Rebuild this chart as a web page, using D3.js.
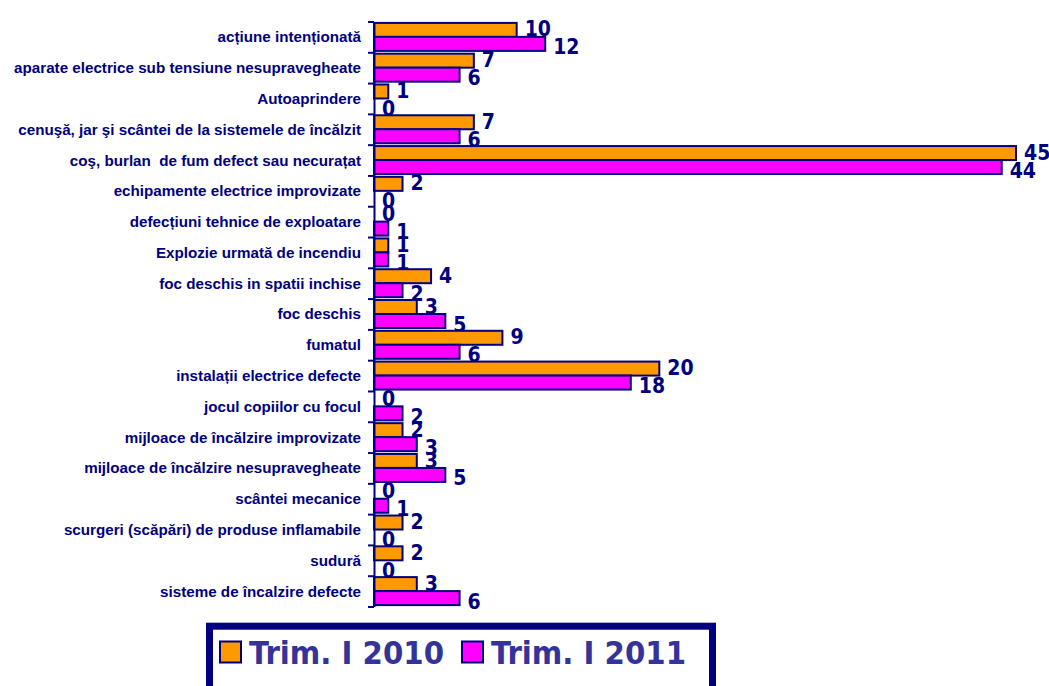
<!DOCTYPE html>
<html>
<head>
<meta charset="utf-8">
<script src="https://cdn.jsdelivr.net/npm/d3@7"></script>
<style>
   body { margin: 0; background: #ffffff; }
   svg { display: block; }
</style>
</head>
<body>
<div id="chart"></div>
<script>

// CATEGORIES (TOP TO BOTTOM)
var categories = [
   'acțiune intenționată',
   'aparate electrice sub tensiune nesupravegheate',
   'Autoaprindere',
   'cenuşă, jar şi scântei de la sistemele de încălzit',
   'coş, burlan  de fum defect sau necurațat',
   'echipamente electrice improvizate',
   'defecțiuni tehnice de exploatare',
   'Explozie urmată de incendiu',
   'foc deschis in spatii inchise',
   'foc deschis',
   'fumatul',
   'instalații electrice defecte',
   'jocul copiilor cu focul',
   'mijloace de încălzire improvizate',
   'mijloace de încălzire nesupravegheate',
   'scântei mecanice',
   'scurgeri (scăpări) de produse inflamabile',
   'sudură',
   'sisteme de încalzire defecte'
];

// SERIES VALUES
var trim2010 = [10, 7, 1, 7, 45, 2, 0, 1, 4, 3, 9, 20, 0, 2, 3, 0, 2, 2, 3];
var trim2011 = [12, 6, 0, 6, 44, 0, 1, 1, 2, 5, 6, 18, 2, 3, 5, 1, 0, 0, 6];

// SERIES NAMES
var seriesNames = ['Trim. I 2010', 'Trim. I 2011'];

// SETTINGS
var settings = {
   width: 1049,
   height: 686,
   left: 374,
   right: 1016,
   top: 21.5,
   bottom: 606.5,
   navy: '#000080',
   legendText: '#333399',
   fill: ['#ff9900', '#ff00ff']
};

// GENERATE CANVAS
var canvas = d3.select('#chart').append('svg')
   .attr('width', settings.width)
   .attr('height', settings.height)

// BUILD ROWS FROM THE ARRAYS
var rows = categories.map((name, i) => {
   return { name: name, values: [trim2010[i], trim2011[i]] };
});

// X-SCALING
var xScale = d3.scaleLinear()
   .domain([0, d3.max(trim2010.concat(trim2011))])
   .range([settings.left, settings.right])

// Y-SCALING -- ONE BAND PER CATEGORY
var yScale = d3.scaleBand()
   .domain(categories)
   .range([settings.top, settings.bottom])
   .padding(0)

// INNER SCALING -- ONE SUB-BAND PER SERIES
var ySub = d3.scaleBand()
   .domain([0, 1])
   .range([0, yScale.bandwidth()])
   .paddingInner(0)
   .paddingOuter(0.1)

// BOUNDARY SCALE FOR THE AXIS TICKS
var yEdge = d3.scaleLinear()
   .domain([0, categories.length])
   .range([settings.top, settings.bottom])

// ADD BARS
var groups = canvas.selectAll('g.row')
   .data(rows)
      .enter().append('g')
         .attr('class', 'row')
         .attr('transform', (d) => { return 'translate(0,' + yScale(d.name) + ')' })

groups.selectAll('rect')
   .data((d) => { return d.values })
      .enter().append('rect')
         .attr('x', xScale(0))
         .attr('y', (d, i) => { return ySub(i) })
         .attr('width', (d) => { return xScale(d) - xScale(0) })
         .attr('height', ySub.bandwidth())
         .attr('fill', (d, i) => { return settings.fill[i] })
         .attr('stroke', settings.navy)
         .attr('stroke-width', 2)

// ADD VALUE LABELS
groups.selectAll('text.value')
   .data((d) => { return d.values })
      .enter().append('text')
         .attr('class', 'value')
         .attr('x', (d) => { return xScale(d) + 8 })
         .attr('y', (d, i) => { return ySub(i) + ySub.bandwidth() / 2 + (i == 0 ? -1 : 3) })
         .attr('dy', '0.36em')
         .attr('fill', settings.navy)
         .attr('font-family', '"DejaVu Sans Condensed", "DejaVu Sans", sans-serif')
         .attr('font-weight', 'bold')
         .attr('font-size', 21)
         .text((d) => { return d })

// ADD CATEGORY LABELS
canvas.selectAll('text.category')
   .data(categories)
      .enter().append('text')
         .attr('class', 'category')
         .attr('x', settings.left - 13)
         .attr('y', (d) => { return yScale(d) + yScale.bandwidth() / 2 })
         .attr('dy', '0.36em')
         .attr('text-anchor', 'end')
         .attr('fill', settings.navy)
         .attr('font-family', '"Liberation Sans", Arial, sans-serif')
         .attr('font-weight', 'bold')
         .attr('font-size', 15.2)
         .style('white-space', 'pre')
         .text((d) => { return d })

// ADD AXIS
var axis = canvas.append('g')
   .attr('transform', 'translate(' + settings.left + ',0)')
   .call(d3.axisLeft(yEdge)
      .tickValues(d3.range(categories.length + 1))
      .tickFormat('')
      .tickSize(6)
      .tickSizeOuter(0))

axis.selectAll('path, line')
   .attr('stroke', settings.navy)
   .attr('stroke-width', 2)

// ADD LEGEND BOX
var legend = canvas.append('g')

legend.append('rect')
   .attr('x', 209.5)
   .attr('y', 626.2)
   .attr('width', 503)
   .attr('height', 90)
   .attr('fill', '#ffffff')
   .attr('stroke', settings.navy)
   .attr('stroke-width', 7)

// LEGEND ITEMS
var legendX = [220, 462];

seriesNames.forEach((name, i) => {

   // SWATCH
   legend.append('rect')
      .attr('x', legendX[i])
      .attr('y', 641.5)
      .attr('width', 21)
      .attr('height', 21)
      .attr('fill', settings.fill[i])
      .attr('stroke', settings.navy)
      .attr('stroke-width', 2)

   // LABEL
   legend.append('text')
      .attr('x', legendX[i] + 29)
      .attr('y', 664)
      .attr('fill', settings.legendText)
      .attr('font-family', '"DejaVu Sans Condensed", "DejaVu Sans", sans-serif')
      .attr('font-weight', 'bold')
      .attr('font-size', 32.5)
      .text(name)
});

</script>
</body>
</html>
